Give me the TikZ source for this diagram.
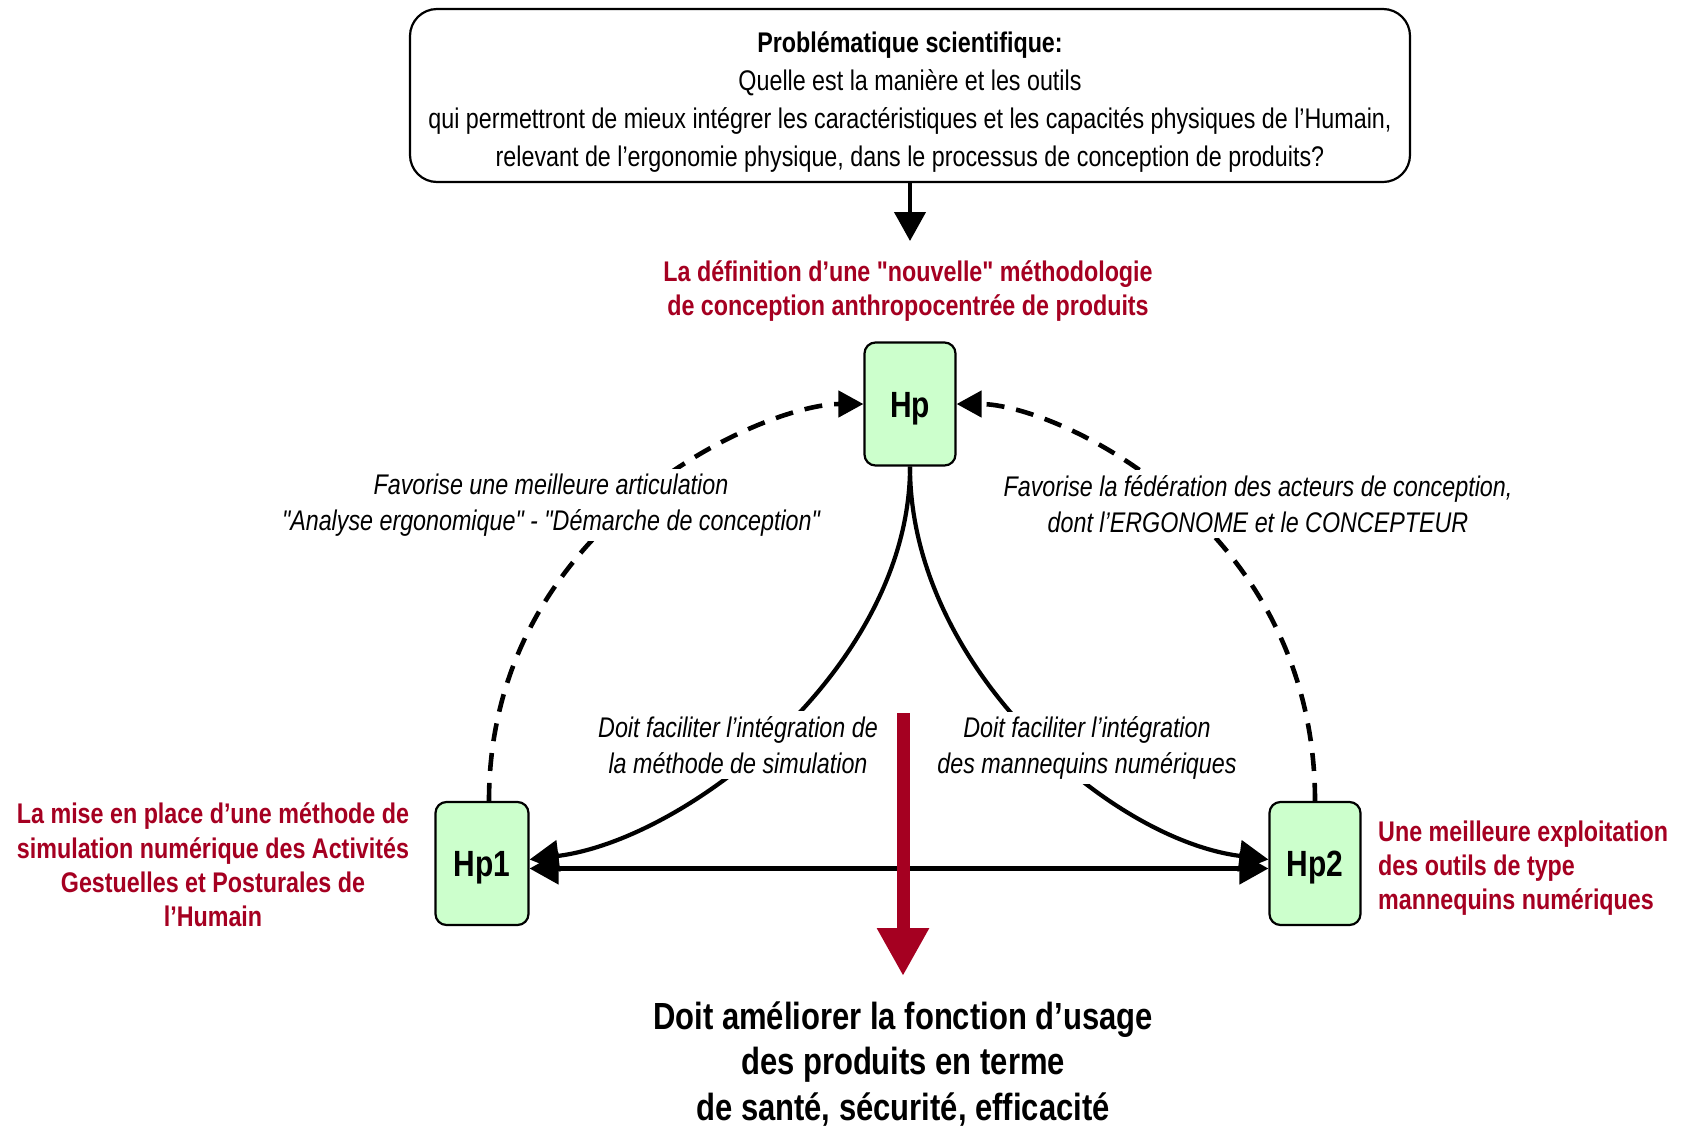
\documentclass[tikz,border=0pt]{standalone}
\usepackage{fontspec}
\setmainfont{Liberation Sans}[FakeStretch=0.82, Ligatures=TeXOff]
\usetikzlibrary{arrows.meta}
\definecolor{dred}{RGB}{165,0,33}
\definecolor{hpgreen}{RGB}{204,255,204}
\begin{document}
\begin{tikzpicture}[x=1pt,y=-1pt,
  txt/.style={font=\fontsize{28.4}{37.7}\selectfont, align=center, inner sep=3pt},
  lbl/.style={align=center, font=\fontsize{28.4}{36}\selectfont\itshape, fill=white, inner sep=5pt},
  redtxt/.style={align=center, inner sep=3pt, font=\fontsize{28.4}{34.5}\selectfont\bfseries, text=dred},
  hpbox/.style={draw, line width=2.2pt, fill=hpgreen, rounded corners=11pt, minimum width=91pt, minimum height=123pt, font=\fontsize{36.5}{40}\selectfont\bfseries, inner sep=0pt, text height=26pt, text depth=0pt},
  arr/.style={line width=4.2pt, -{Triangle[width=31pt,length=29pt]}},
  dasharr/.style={line width=4.6pt, dash pattern=on 18pt off 12pt, -{Triangle[width=26pt,length=25pt]}},
]
\useasboundingbox (0,0) rectangle (1682,1128);

\node[draw, line width=2.2pt, rounded corners=27pt, minimum width=1000pt, minimum height=173pt] (prob) at (910,95.5) {};
\node[txt] (probtxt) at (910,102) {\textbf{Problématique scientifique:}\\Quelle est la manière et les outils\\qui permettront de mieux intégrer les caractéristiques et les capacités physiques de l’Humain,\\relevant de l’ergonomie physique, dans le processus de conception de produits?};

\node[redtxt] (def) at (908,291) {La définition d’une "nouvelle" méthodologie\\de conception anthropocentrée de produits};
\coordinate (topend) at (910,241);
\draw[arr] (prob.south) -- (topend);

\node[hpbox] (hp) at (910,404) {Hp};
\node[hpbox, minimum width=93pt] (hp1) at (482,863.5) {Hp1};
\node[hpbox] (hp2) at (1315,863.5) {Hp2};

\draw[dasharr] ([xshift=7pt]hp1.north) .. controls +(0,-277) and +(-99,0) .. (hp.west);
\draw[dasharr] (hp2.north) .. controls +(0,-277) and +(99,0) .. (hp.east);

\node[lbl] (l1) at (551,505) {Favorise une meilleure articulation\\"Analyse ergonomique" - "Démarche de conception"};
\node[lbl] (l2) at (1258,504) {Favorise la fédération des acteurs de conception,\\dont l’ERGONOME et le CONCEPTEUR};

\draw[arr] (hp.south) .. controls +(0,199) and +(159,-20) .. ([yshift=4pt]hp1.east);
\draw[arr] (hp.south) .. controls +(0,199) and +(-159,-20) .. ([yshift=4pt]hp2.west);

\node[lbl] (l3) at (738,745) {Doit faciliter l’intégration de\\la méthode de simulation};
\node[lbl] (l4) at (1087,748) {Doit faciliter l’intégration\\des mannequins numériques};

\draw[line width=4.6pt, {Triangle[width=31pt,length=29pt]}-{Triangle[width=31pt,length=29pt]}] ([yshift=-5pt]hp1.east) -- ([yshift=-5pt]hp2.west);

\coordinate (rs) at (903,713);
\coordinate (re) at (903,976);
\draw[dred, line width=13pt, -{Triangle[width=49pt,length=48pt]}] (rs) -- (re);

\node[redtxt, font=\fontsize{28.4}{34.3}\selectfont\bfseries] (t1) at (213,865) {La mise en place d’une méthode de\\simulation numérique des Activités\\Gestuelles et Posturales de\\l’Humain};
\node[redtxt, align=left, anchor=west, font=\fontsize{28.4}{34}\selectfont\bfseries] (t2) at (1375,868) {Une meilleure exploitation\\des outils de type\\mannequins numériques};

\node[font=\fontsize{37.8}{45.2}\selectfont\bfseries, align=center, inner sep=0pt] (bot) at (903,1064) {Doit améliorer la fonction d’usage\\des produits en terme\\de santé, sécurité, efficacité};
\end{tikzpicture}
\end{document}
